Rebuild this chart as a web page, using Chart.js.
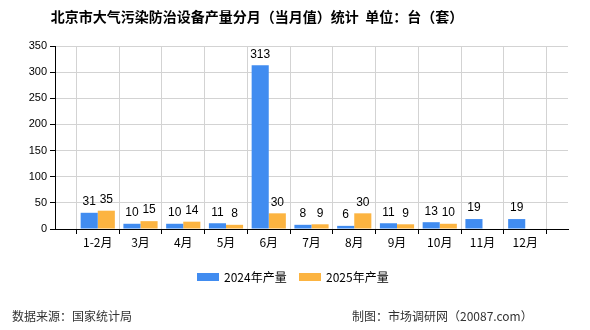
<!DOCTYPE html>
<html>
<head>
<meta charset="utf-8">
<script src="https://cdn.jsdelivr.net/npm/chart.js@4/dist/chart.umd.min.js"></script>
<style>
html,body{margin:0;padding:0;background:#fff;}
#wrap{position:relative;width:590px;height:330px;}
</style>
</head>
<body>
<div id="wrap"><canvas id="c" width="590" height="330"></canvas></div>
<script>
const titleText = '北京市大气污染防治设备产量分月（当月值）统计  单位：台（套）';
const sourceText = '数据来源：国家统计局';
const creditText = '制图：市场调研网（20087.com）';
const months = ['1-2月','3月','4月','5月','6月','7月','8月','9月','10月','11月','12月'];
const series2024 = [31, 10, 10, 11, 313, 8, 6, 11, 13, 19, 19];
const series2025 = [35, 15, 14, 8, 30, 9, 30, 9, 10, null, null];
const seriesNames = ['2024年产量','2025年产量'];
const seriesColors = ['#418CF0','#FCB441'];
const yTicks = [0,50,100,150,200,250,300,350];

const labels = [''].concat(months, ['']);
const pad = arr => [null].concat(arr, [null]);

const FONT = '"Liberation Sans", Arial, sans-serif';
const CJK = '"Noto Sans CJK SC", "Liberation Sans", sans-serif';

const decor = {
  id: 'decor',
  afterDatasetsDraw(chart) {
    const ctx = chart.ctx;
    ctx.save();
    ctx.fillStyle = '#000';
    ctx.font = '12px ' + FONT;
    ctx.textAlign = 'center';
    ctx.textBaseline = 'bottom';
    chart.data.datasets.forEach((ds, di) => {
      const meta = chart.getDatasetMeta(di);
      meta.data.forEach((el, i) => {
        const v = ds.data[i];
        if (v === null || v === undefined) return;
        ctx.fillText(String(v), el.x, el.y - 5);
      });
    });
    ctx.restore();
  },
  afterDraw(chart) {
    const ctx = chart.ctx;
    ctx.save();
    // title
    ctx.fillStyle = '#000';
    ctx.font = 'bold 14px ' + CJK;
    ctx.textAlign = 'center';
    ctx.textBaseline = 'middle';
    ctx.fillText(titleText, 257, 17);
    // legend
    ctx.font = '12px ' + CJK;
    ctx.textAlign = 'left';
    const lx = [197, 299];
    seriesNames.forEach((n, i) => {
      ctx.fillStyle = seriesColors[i];
      ctx.fillRect(lx[i], 273, 22, 8);
      ctx.fillStyle = '#000';
      ctx.fillText(n, lx[i] + 27, 277);
    });
    // footer
    ctx.fillStyle = '#333';
    ctx.fillText(sourceText, 12, 316);
    ctx.fillText(creditText, 352, 316);
    ctx.restore();
  }
};

new Chart(document.getElementById('c'), {
  type: 'bar',
  data: {
    labels: labels,
    datasets: [
      { label: seriesNames[0], data: pad(series2024), backgroundColor: seriesColors[0], categoryPercentage: 0.8, barPercentage: 1.0 },
      { label: seriesNames[1], data: pad(series2025), backgroundColor: seriesColors[1], categoryPercentage: 0.8, barPercentage: 1.0 }
    ]
  },
  options: {
    responsive: false,
    animation: false,
    layout: { padding: { left: 0, right: 22, top: 46, bottom: 0 } },
    plugins: { legend: { display: false }, title: { display: false }, tooltip: { enabled: false } },
    scales: {
      x: {
        offset: false,
        grid: {
          color: ctx => (ctx.index === 0) ? 'rgba(0,0,0,0)' : '#d3d3d3',
          tickColor: '#000',
          tickLength: 5,
          drawOnChartArea: true
        },
        border: { color: '#000', width: 1 },
        ticks: { color: '#000', font: { size: 12, family: CJK }, padding: 1, maxRotation: 0, autoSkip: false },
        afterFit(scale) { scale.height = 101; }
      },
      y: {
        min: 0, max: 350,
        afterBuildTicks(scale) { scale.ticks = yTicks.map(v => ({ value: v })); },
        grid: { color: '#d3d3d3', tickColor: '#000', tickLength: 5 },
        border: { color: '#000', width: 1 },
        ticks: { color: '#000', font: { size: 11, family: FONT }, padding: 3 },
        afterFit(scale) { scale.width = 55; }
      }
    }
  },
  plugins: [decor]
});
</script>
</body>
</html>
